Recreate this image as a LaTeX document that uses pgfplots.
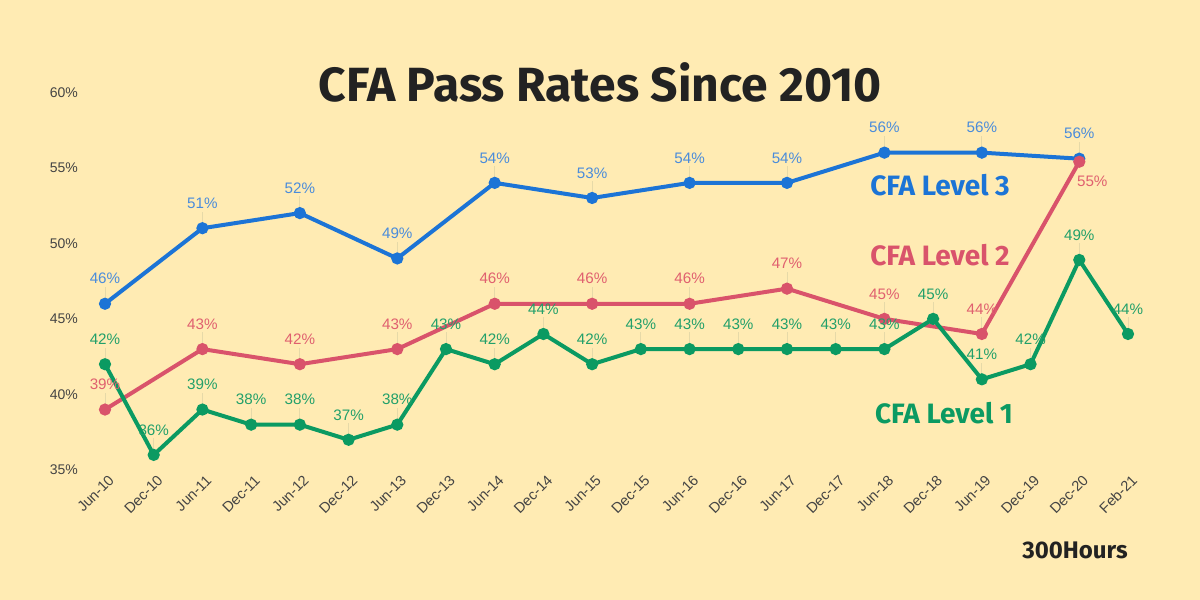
\documentclass[border=0pt]{standalone}
\usepackage{pgfplots}
\pgfplotsset{compat=1.18}
\usepackage{fontspec}
\setmainfont{Liberation Sans}
\newfontfamily\headfont{Fira Sans}
\definecolor{bg}{HTML}{FFEBB3}
\definecolor{l3}{HTML}{1C74D6}
\definecolor{l2}{HTML}{D9536B}
\definecolor{l1}{HTML}{0B9A62}
\definecolor{l3t}{HTML}{4A8CDB}
\definecolor{l2t}{HTML}{E0606F}
\definecolor{l1t}{HTML}{22A06A}
\definecolor{lead}{HTML}{E6D9A8}
\definecolor{tickc}{HTML}{444444}
\definecolor{titlec}{HTML}{222222}
\begin{document}
\begin{tikzpicture}
\fill[bg] (0,0) rectangle (600pt,300pt);
\begin{axis}[
  at={(52.5pt,65pt)}, anchor=south west,
  scale only axis, width=511.5pt, height=188.9pt,
  xmin=0, xmax=21, ymin=35, ymax=60,
  axis line style={draw=none}, major tick length=0pt,
  clip=false,
  /pgf/number format/assume math mode=true,
  xtick={0,...,21},
  xticklabels={Jun-10,Dec-10,Jun-11,Dec-11,Jun-12,Dec-12,Jun-13,Dec-13,Jun-14,Dec-14,Jun-15,Dec-15,Jun-16,Dec-16,Jun-17,Dec-17,Jun-18,Dec-18,Jun-19,Dec-19,Dec-20,Feb-21},
  ytick={35,40,45,50,55,60},
  yticklabels={35\%,40\%,45\%,50\%,55\%,60\%},
  xticklabel style={rotate=45, anchor=east, font=\fontsize{7.3}{8}\selectfont, text=tickc, yshift=-5pt, xshift=3pt},
  yticklabel style={font=\fontsize{7}{8}\selectfont, text=tickc, xshift=-10pt},
  lbl/.style={draw=none, mark=none,
    nodes near coords={\pgfmathprintnumber[fixed,precision=0]{\pgfplotspointmeta}\%},
    every node near coord/.append style={anchor=center, yshift=12.5pt, font=\fontsize{7.6}{8}\selectfont, text=#1},
    error bars/.cd, y dir=plus, y fixed=1.1, error mark=none,
    error bar style={draw=lead, line width=0.4pt}},
]
% lines
\addplot[l3, line width=2pt, mark=*, mark size=2pt, mark options={fill=l3, draw=l3}] coordinates {
(0,46) (2,51) (4,52) (6,49) (8,54) (10,53) (12,54) (14,54) (16,56) (18,56) (20,55.6)};
\addplot[l2, line width=2pt, mark=*, mark size=2pt, mark options={fill=l2, draw=l2}] coordinates {
(0,39) (2,43) (4,42) (6,43) (8,46) (10,46) (12,46) (14,47) (16,45) (18,44) (20,55.4)};
\addplot[l1, line width=2pt, mark=*, mark size=2pt, mark options={fill=l1, draw=l1}] coordinates {
(0,42) (1,36) (2,39) (3,38) (4,38) (5,37) (6,38) (7,43) (8,42) (9,44) (10,42) (11,43) (12,43) (13,43) (14,43) (15,43) (16,43) (17,45) (18,41) (19,42) (20,48.9) (21,44)};
% labels
\addplot[lbl=l3t] coordinates {
(0,46) (2,51) (4,52) (6,49) (8,54) (10,53) (12,54) (14,54) (16,56) (18,56) (20,55.6)};
\addplot[lbl=l2t] coordinates {
(0,39) (2,43) (4,42) (6,43) (8,46) (10,46) (12,46) (14,47) (16,45) (18,44)};
\addplot[draw=none, mark=none, nodes near coords={\pgfmathprintnumber[fixed,precision=0]{\pgfplotspointmeta}\%},
  every node near coord/.append style={anchor=center, xshift=6.5pt, yshift=-10pt, font=\fontsize{7.6}{8}\selectfont, text=l2t}] coordinates {(20,55.4)};
\addplot[lbl=l1t] coordinates {
(0,42) (1,36) (2,39) (3,38) (4,38) (5,37) (6,38) (7,43) (8,42) (9,44) (10,42) (11,43) (12,43) (13,43) (14,43) (15,43) (16,43) (17,45) (18,41) (19,42) (20,48.9) (21,44)};
\end{axis}
\node[font=\headfont\bfseries\fontsize{24}{28}\selectfont, text=titlec] at (300pt,259pt) {CFA Pass Rates Since 2010};
\node[font=\headfont\bfseries\fontsize{14}{16}\selectfont, text=l3] at (470pt,207.5pt) {CFA Level 3};
\node[font=\headfont\bfseries\fontsize{14}{16}\selectfont, text=l2] at (470pt,172.5pt) {CFA Level 2};
\node[font=\headfont\bfseries\fontsize{14}{16}\selectfont, text=l1] at (472pt,93.5pt) {CFA Level 1};
\node[font=\headfont\bfseries\fontsize{12}{14}\selectfont, text=titlec] at (537.5pt,25pt) {300Hours};
\pgfresetboundingbox
\path (0,0) rectangle (600pt,300pt);
\end{tikzpicture}
\end{document}
